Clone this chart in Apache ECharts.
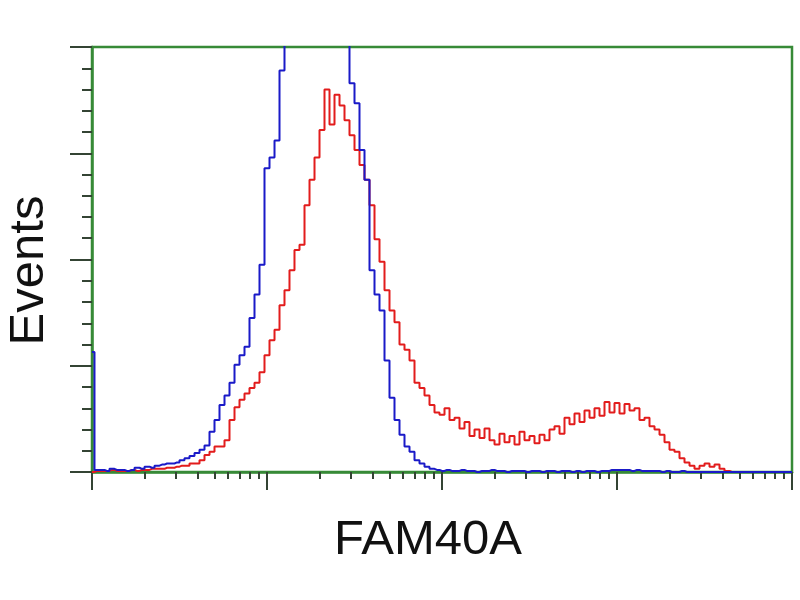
<!DOCTYPE html>
<html>
<head>
<meta charset="utf-8">
<script src="https://cdn.jsdelivr.net/npm/echarts@6/dist/echarts.min.js"></script>
<style>
html,body{margin:0;padding:0;background:#fff;}
#chart{width:800px;height:600px;}
</style>
</head>
<body>
<div id="chart"></div>
<script>
// Bin positions (fluorescence intensity, 35 bins per decade)
const binMantissa = [1,1.068,1.141,1.218,1.301,1.389,1.484,1.585,1.693,1.808,1.931,2.062,2.202,2.352,2.512,2.683,2.865,3.060,3.268,3.490,3.728,3.981,4.252,4.541,4.850,5.179,5.532,5.908,6.310,6.739,7.197,7.686,8.209,8.767,9.363];
const decades = [1, 10, 100, 1000];
const lastBin = 10000;

// Control (blue) event counts per bin
const controlCounts = [
  113, 2, 2, 1, 3, 2, 2, 1, 2, 4,
  3, 5, 4, 6, 7, 8, 8, 9, 11, 13,
  15, 18, 21, 25, 38, 49, 63, 72, 84, 101,
  110, 118, 145, 167, 195, 286, 296, 312, 378, 407,
  440, 460, 480, 490, 500, 505, 510, 505, 500, 480,
  450, 410, 366, 347, 303, 275, 190, 167, 152, 105,
  70, 49, 35, 24, 19, 11, 8, 5, 3, 2,
  1, 2, 1, 1, 2, 1, 1, 0, 1, 1,
  2, 1, 1, 0, 1, 1, 1, 0, 1, 1,
  0, 1, 1, 0, 1, 1, 0, 1, 0, 1,
  1, 0, 1, 1, 2, 2, 2, 2, 1, 2,
  1, 1, 1, 1, 0, 1, 0, 0, 1, 0,
  0, 0, 0, 0, 0, 0, 0, 0, 0, 0,
  0, 0, 0, 0, 0, 0, 0, 0, 0, 0,
  0
];

// FAM40A stained (red) event counts per bin
const fam40aCounts = [
  0, 1, 1, 1, 2, 1, 1, 1, 2, 1,
  2, 2, 3, 3, 3, 4, 4, 5, 6, 6,
  8, 8, 11, 16, 19, 24, 24, 30, 49, 61,
  68, 74, 79, 84, 94, 110, 124, 134, 157, 171,
  190, 209, 214, 251, 275, 296, 322, 360, 327, 355,
  345, 331, 317, 303, 289, 275, 251, 219, 198, 171,
  152, 141, 120, 115, 105, 84, 79, 72, 63, 56,
  54, 60, 49, 51, 41, 47, 34, 40, 32, 41,
  30, 26, 36, 28, 34, 26, 38, 30, 34, 27,
  35, 30, 40, 43, 36, 51, 45, 55, 47, 58,
  51, 60, 53, 66, 56, 65, 55, 64, 58, 60,
  49, 51, 43, 40, 35, 28, 21, 19, 13, 9,
  6, 3, 6, 8, 5, 7, 3, 1, 0, 0,
  0, 0, 0, 0, 0, 0, 0, 0, 0, 0,
  0
];

const majorTicksX = [1, 10, 100, 1000, 10000];
const minorTickMantissa = [2, 3, 4, 5, 6, 7, 8, 9];
const yMax = 400;
const yInterval = 100;

const intensities = [];
decades.forEach(d => binMantissa.forEach(m => intensities.push(+(m * d).toPrecision(4))));
intensities.push(lastBin);

const minorTicksX = [];
decades.forEach(d => minorTickMantissa.forEach(m => minorTicksX.push(m * d)));

const controlData = intensities.map((x, i) => [x, controlCounts[i]]);
const famData = intensities.map((x, i) => [x, fam40aCounts[i]]);

const chart = echarts.init(document.getElementById('chart'), null, {renderer: 'canvas'});
const tickColor = '#344434';
const frameColor = '#378a37';
const fontFamily = 'Liberation Sans, Arial, sans-serif';

chart.setOption({
  animation: false,
  backgroundColor: '#ffffff',
  grid: {left: 92, top: 47, right: 8, bottom: 128, outerBoundsMode: 'none', containLabel: false,
         show: true, borderColor: frameColor, borderWidth: 2.5, backgroundColor: 'transparent'},
  xAxis: [
    {
      type: 'log', logBase: 10, min: 1, max: 10000,
      position: 'bottom',
      name: 'FAM40A', nameLocation: 'middle', nameGap: 44,
      nameTextStyle: {fontFamily: fontFamily, fontSize: 49, color: '#111', padding: [0, 28, 0, 0]},
      axisLine: {show: true, lineStyle: {color: frameColor, width: 2.5}},
      axisTick: {show: true, customValues: majorTicksX, length: 18, lineStyle: {color: tickColor, width: 2}},
      axisLabel: {show: false},
      splitLine: {show: false},
      minorTick: {show: false}
    },
    {
      type: 'log', logBase: 10, min: 1, max: 10000,
      position: 'bottom',
      axisLine: {show: false},
      axisTick: {show: true, customValues: minorTicksX, length: 7, lineStyle: {color: tickColor, width: 2}},
      axisLabel: {show: false},
      splitLine: {show: false}
    }
  ],
  yAxis: {
    type: 'value', min: 0, max: yMax, interval: yInterval,
    name: 'Events', nameLocation: 'middle', nameGap: 38, nameRotate: 90,
    nameTextStyle: {fontFamily: fontFamily, fontSize: 49, color: '#111', padding: [0, 22, 0, 0]},
    axisLine: {show: true, lineStyle: {color: frameColor, width: 2.5}},
    axisTick: {show: true, length: 22, lineStyle: {color: tickColor, width: 2}},
    minorTick: {show: true, splitNumber: 5, length: 10, lineStyle: {color: tickColor, width: 2}},
    axisLabel: {show: false},
    splitLine: {show: false}
  },
  series: [
    {
      name: 'FAM40A', type: 'line', xAxisIndex: 0, data: famData,
      showSymbol: false, clip: true, step: 'middle',
      lineStyle: {color: '#e21c1c', width: 2}
    },
    {
      name: 'Control', type: 'line', xAxisIndex: 0, data: controlData,
      showSymbol: false, clip: true, step: 'middle',
      lineStyle: {color: '#1a1ac8', width: 2}
    }
  ]
});
</script>
</body>
</html>
